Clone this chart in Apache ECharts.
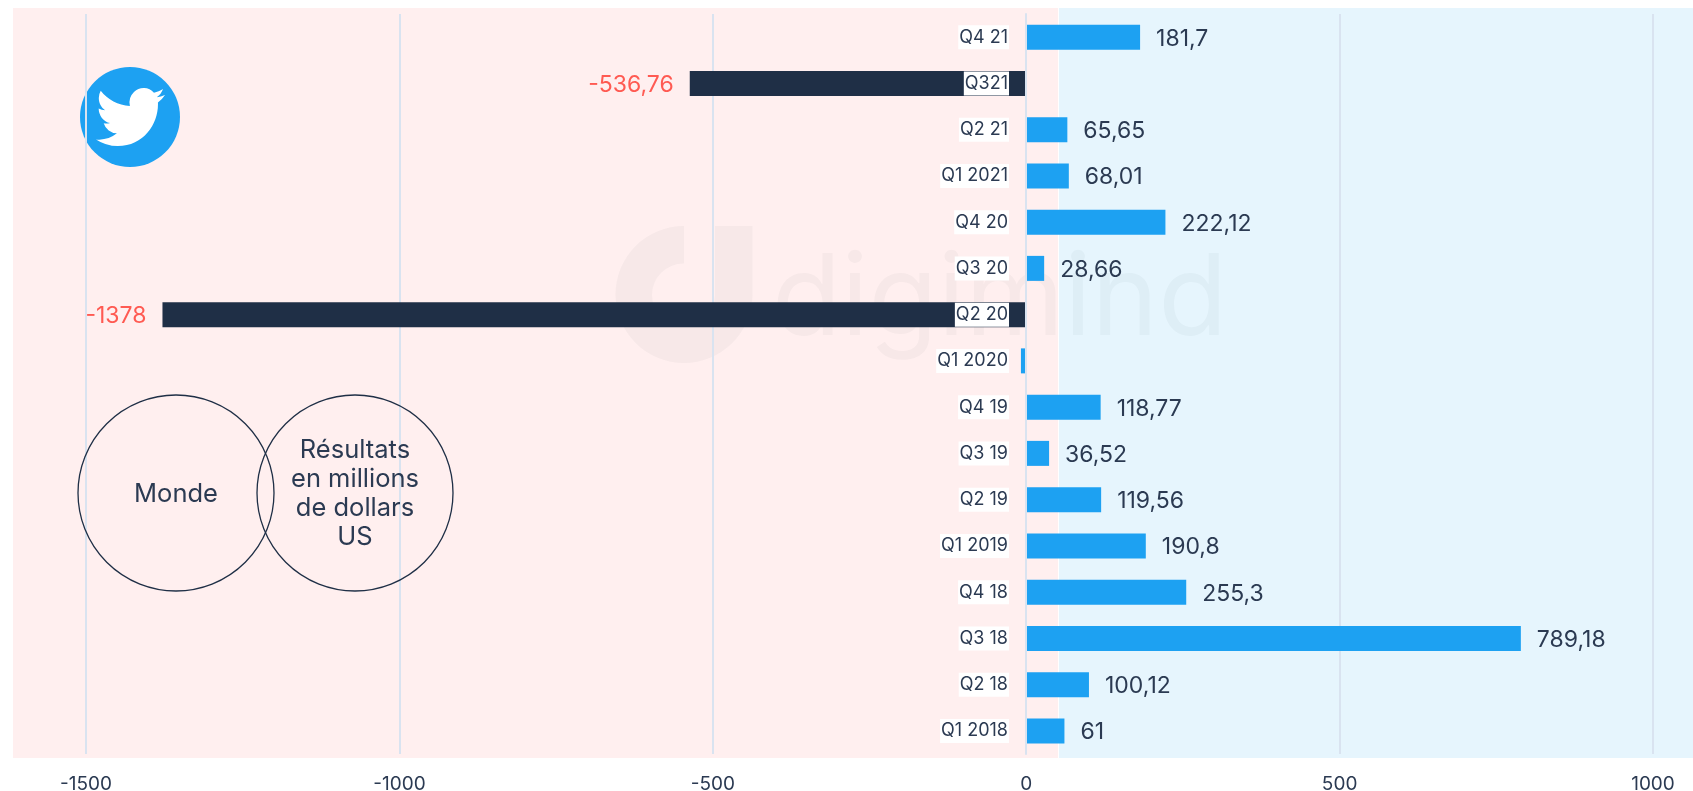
<!DOCTYPE html>
<html><head><meta charset="utf-8">
<style>html,body{margin:0;padding:0;background:#fff}#c{width:1693px;height:791px}</style>
<script src="https://cdn.jsdelivr.net/npm/echarts@6/dist/echarts.min.js"></script>
</head><body><div id="c"></div>
<script>
const categories = ['Q4 21','Q321','Q2 21','Q1 2021','Q4 20','Q3 20','Q2 20','Q1 2020','Q4 19','Q3 19','Q2 19','Q1 2019','Q4 18','Q3 18','Q2 18','Q1 2018'];
const values = [181.7,-536.76,65.65,68.01,222.12,28.66,-1378,-8.4,118.77,36.52,119.56,190.8,255.3,789.18,100.12,61];
const FONT = 'Inter, "Noto Sans", sans-serif';
const INK = '#2b3a52', DARK = '#1f2f46', BLUE = '#1da1f2', RED = '#ff5a52', GRID = '#d9e3f0';
const BIRD = 'M23.953 4.57 a10 10 0 0 1 -2.825 .775 4.958 4.958 0 0 0 2.163 -2.723 c-.951 .555 -2.005 .959 -3.127 1.184 a4.92 4.92 0 0 0 -8.384 4.482 C7.69 8.095 4.067 6.13 1.64 3.162 a4.822 4.822 0 0 0 -.666 2.475 c0 1.71 .87 3.213 2.188 4.096 a4.904 4.904 0 0 1 -2.228 -.616 v.06 a4.923 4.923 0 0 0 3.946 4.827 4.996 4.996 0 0 1 -2.212 .085 4.936 4.936 0 0 0 4.604 3.417 9.867 9.867 0 0 1 -6.102 2.105 c-.39 0 -.779 -.023 -1.17 -.067 a13.995 13.995 0 0 0 7.557 2.209 c9.053 0 13.998 -7.496 13.998 -13.985 0 -.21 0 -.42 -.015 -.63 A9.935 9.935 0 0 0 24 4.59 z';
const MARK = 'M684 226A68.5 68.5 0 1 0 752.5 295V226H715V295A31.5 31.5 0 1 1 684 263.5Z';
const big = v => v < -100;
const chart = echarts.init(document.getElementById('c'), null, {renderer:'canvas'});
const txt = (text,x,y,size) => ({type:'text',z:5,style:{text,x,y,fill:INK,font:`400 ${size}px ${FONT}`,textAlign:'center',textVerticalAlign:'middle'}});
chart.setOption({
  animation:false,
  backgroundColor:'#fff',
  grid:{left:86,right:40,top:14,bottom:37,containLabel:false,outerBoundsMode:'none'},
  xAxis:{type:'value',min:-1500,max:1000,interval:500,
    axisLine:{show:false},axisTick:{show:false},
    axisLabel:{color:INK,fontFamily:FONT,fontSize:19,margin:21,formatter:v=>String(v)},
    splitLine:{show:true,lineStyle:{color:GRID,width:2}}},
  yAxis:{type:'category',inverse:true,data:categories,z:10,offset:-940,
    axisLine:{show:true,onZero:false,lineStyle:{color:GRID,width:2}},axisTick:{show:false},
    axisLabel:{color:INK,fontFamily:FONT,fontSize:18,margin:17,backgroundColor:'#fff',padding:[4,1,2,1],interval:0}},
  series:[{type:'bar',barWidth:25,z:2,
    data:values.map(v=>({value:v,itemStyle:{color:big(v)?DARK:BLUE},
      label:{position:v<0?'left':'right',color:big(v)?RED:INK}})),
    label:{show:true,distance:16,fontFamily:FONT,fontSize:23,offset:[0,1.5],
      formatter:p=>String(p.value).replace('.',',')}
  },{type:'custom',z:-4,silent:true,data:[[0,0]],coordinateSystem:'none',
    renderItem:()=>({type:'group',children:[
      {type:'path',shape:{pathData:MARK,x:615.5,y:226,width:137,height:137,layout:'cover'},style:{fill:'rgba(31,47,70,0.035)'}},
      {type:'path',shape:{pathData:BIRD,x:96,y:88,width:69,height:58,layout:'cover'},style:{fill:'#fff'}}
    ]})
  }],
  graphic:{elements:[
    {type:'rect',z:-10,shape:{x:13,y:8,width:1045,height:750},style:{fill:'#ffefef'}},
    {type:'rect',z:-10,shape:{x:1059,y:8,width:634,height:750},style:{fill:'#e6f5fd'}},
    {type:'circle',z:-5,shape:{cx:130,cy:117,r:50},style:{fill:BLUE}},
    {type:'circle',z:4,shape:{cx:176,cy:493,r:98},style:{fill:null,stroke:DARK,lineWidth:1.3}},
    {type:'circle',z:4,shape:{cx:355,cy:493,r:98},style:{fill:null,stroke:DARK,lineWidth:1.3}},
    txt('Monde',176,494,25.5),
    txt('Résultats',355,450,25.5),txt('en millions',355,479,25.5),txt('de dollars',355,508,25.5),txt('US',355,537,25.5),
    {type:'text',z:-4,style:{text:'digimind',x:772,y:245,fill:'rgba(31,47,70,0.035)',font:`400 113px ${FONT}`,textAlign:'left',textVerticalAlign:'top'}}
  ]}
});
</script></body></html>
